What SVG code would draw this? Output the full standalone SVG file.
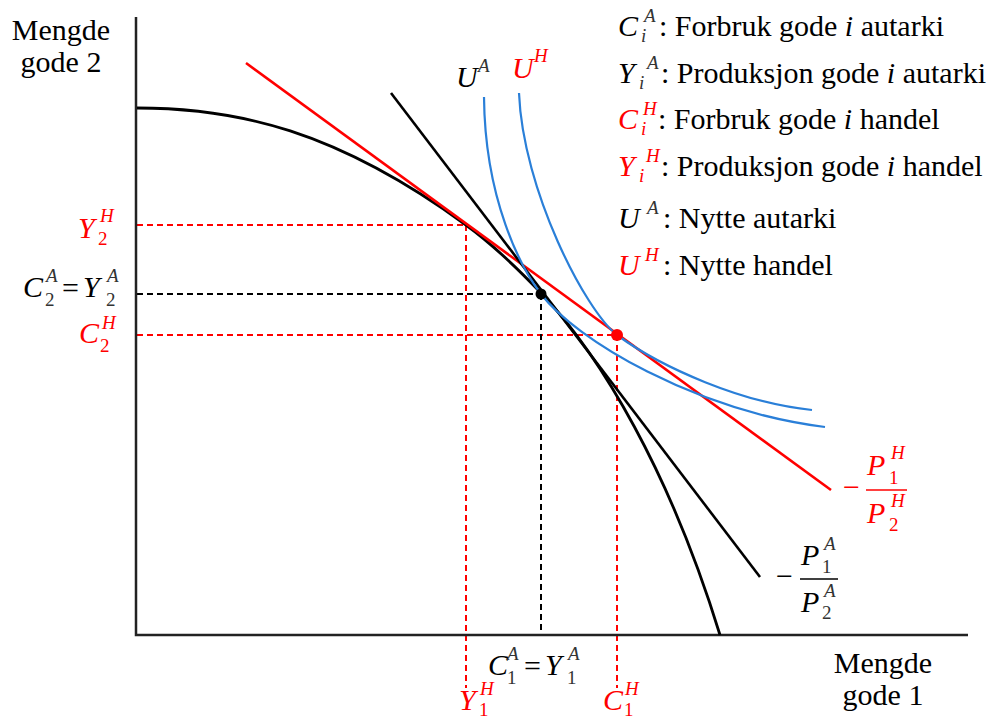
<svg xmlns="http://www.w3.org/2000/svg" width="987" height="722" viewBox="0 0 987 722" font-family="'Liberation Serif', 'Times New Roman', 'DejaVu Serif', serif">
<style>
.t{font-family:"Liberation Serif","Times New Roman","DejaVu Serif",serif;font-size:30px;fill:#000}
.i{font-style:italic}
.s{font-size:19px;fill:#333}
.r{fill:#ff0000}
.dr{stroke:#ff0000;stroke-width:2;stroke-dasharray:6 4;fill:none}
.dk{stroke:#000;stroke-width:2;stroke-dasharray:6 4;fill:none}
.ax{stroke:#222;stroke-width:2.5;fill:none}
.ppf{stroke:#000;stroke-width:2.8;fill:none}
.bl{stroke:#2a7fd8;stroke-width:2.2;fill:none}
</style>
<rect width="987" height="722" fill="#fff"/>
<g id="connectors">
  <g id="guides">
    <line class="dr" x1="137" y1="225" x2="466" y2="225"/>
    <line class="dr" x1="466" y1="225" x2="466" y2="688"/>
    <line class="dr" x1="137" y1="335" x2="617" y2="335"/>
    <line class="dr" x1="617" y1="335" x2="617" y2="688"/>
    <line class="dk" x1="137" y1="294" x2="541" y2="294"/>
    <line class="dk" x1="541" y1="294" x2="541" y2="634"/>
  </g>
  <path id="axes" class="ax" d="M136,17 L136,635 L968,635"/>
  <path id="ppf" class="ppf" d="M137,108 C237,108 336,130.2 466,225 C491,243.2 516,266.8 541,293 C601,356 670,472 720,635"/>
  <line id="price-handel" x1="246" y1="63" x2="831" y2="490" stroke="#ff0000" stroke-width="2.6"/>
  <line id="price-autarki" x1="391" y1="93" x2="760" y2="577" stroke="#000" stroke-width="2.6"/>
  <path id="UA-curve" class="bl" d="M484,97 C485,200 521,268 541,294 C576,340 695,410.6 825,427"/>
  <path id="UH-curve" class="bl" d="M519,93 C523,190 585,310 617,335 C662,367.8 742,403 812,410"/>
  <circle cx="541" cy="294" r="5.5" fill="#000"/>
  <circle cx="617" cy="335" r="6" fill="#ff0000"/>
</g>
<g id="axis-label-y">
  <text class="t" x="61" y="40" text-anchor="middle">Mengde</text>
  <text class="t" x="61" y="72" text-anchor="middle">gode 2</text>
</g>
<g id="axis-label-x">
  <text class="t" x="883" y="673" text-anchor="middle">Mengde</text>
  <text class="t" x="883" y="705" text-anchor="middle">gode 1</text>
</g>
<g id="label-UA">
  <text class="t i" x="456" y="87">U</text>
  <text class="t i s" x="478" y="72">A</text>
</g>
<g id="label-UH">
  <text class="t i r" x="512" y="78">U</text>
  <text class="t i s r" x="534" y="62">H</text>
</g>
<g id="label-Y2H">
  <text class="t i r" x="78" y="238">Y</text>
  <text class="t i s r" x="100" y="222">H</text>
  <text class="t s r" x="98" y="245">2</text>
</g>
<g id="label-C2A-Y2A">
  <text class="t i" x="23" y="297">C</text>
  <text class="t i s" x="46" y="282">A</text>
  <text class="t s" x="45" y="306">2</text>
  <text class="t" x="62" y="298">=</text>
  <text class="t i" x="83" y="297">Y</text>
  <text class="t i s" x="107" y="282">A</text>
  <text class="t s" x="106" y="306">2</text>
</g>
<g id="label-C2H">
  <text class="t i r" x="79" y="343">C</text>
  <text class="t i s r" x="102" y="329">H</text>
  <text class="t s r" x="100" y="352">2</text>
</g>
<g id="label-C1A-Y1A">
  <text class="t i" x="488" y="675">C</text>
  <text class="t i s" x="507" y="660">A</text>
  <text class="t s" x="507" y="684">1</text>
  <text class="t" x="524" y="676">=</text>
  <text class="t i" x="545" y="675">Y</text>
  <text class="t i s" x="568" y="660">A</text>
  <text class="t s" x="567" y="684">1</text>
</g>
<g id="label-Y1H">
  <text class="t i r" x="459" y="710">Y</text>
  <text class="t i s r" x="480" y="695">H</text>
  <text class="t s r" x="479" y="716">1</text>
</g>
<g id="label-C1H">
  <text class="t i r" x="603" y="710">C</text>
  <text class="t i s r" x="625" y="695">H</text>
  <text class="t s r" x="624" y="716">1</text>
</g>
<g id="label-priceH">
  <text class="t r" x="843" y="497">−</text>
  <text class="t i r" x="867" y="475">P</text>
  <text class="t i s r" x="891" y="459">H</text>
  <text class="t s r" x="889" y="484">1</text>
  <line x1="866" y1="490" x2="907" y2="490" stroke="#ff0000" stroke-width="1.5"/>
  <text class="t i r" x="867" y="523">P</text>
  <text class="t i s r" x="891" y="507">H</text>
  <text class="t s r" x="889" y="531">2</text>
</g>
<g id="label-priceA">
  <text class="t" x="776" y="586">−</text>
  <text class="t i" x="801" y="565">P</text>
  <text class="t i s" x="824" y="550">A</text>
  <text class="t s" x="822" y="573">1</text>
  <line x1="800" y1="579" x2="838" y2="579" stroke="#000" stroke-width="1.5"/>
  <text class="t i" x="801" y="612">P</text>
  <text class="t i s" x="824" y="597">A</text>
  <text class="t s" x="822" y="619">2</text>
</g>
<g id="legend">
  <g id="legend-CA">
    <text class="t i" x="618" y="36">C</text>
    <text class="t i s" x="644" y="22">A</text>
    <text class="t i s" x="641" y="42">i</text>
    <text class="t" x="659" y="36">: Forbruk gode <tspan class="i">i</tspan> autarki</text>
  </g>
  <g id="legend-YA">
    <text class="t i" x="618" y="83">Y</text>
    <text class="t i s" x="647" y="69">A</text>
    <text class="t i s" x="639" y="89">i</text>
    <text class="t" x="661" y="83">: Produksjon gode <tspan class="i">i</tspan> autarki</text>
  </g>
  <g id="legend-CH">
    <text class="t i r" x="618" y="129">C</text>
    <text class="t i s r" x="643" y="115">H</text>
    <text class="t i s r" x="641" y="135">i</text>
    <text class="t" x="658" y="129">: Forbruk gode <tspan class="i">i</tspan> handel</text>
  </g>
  <g id="legend-YH">
    <text class="t i r" x="618" y="176">Y</text>
    <text class="t i s r" x="646" y="162">H</text>
    <text class="t i s r" x="639" y="182">i</text>
    <text class="t" x="661" y="176">: Produksjon gode <tspan class="i">i</tspan> handel</text>
  </g>
  <g id="legend-UA">
    <text class="t i" x="618" y="228">U</text>
    <text class="t i s" x="647" y="214">A</text>
    <text class="t" x="663" y="228">: Nytte autarki</text>
  </g>
  <g id="legend-UH">
    <text class="t i r" x="618" y="275">U</text>
    <text class="t i s r" x="645" y="261">H</text>
    <text class="t" x="663" y="275">: Nytte handel</text>
  </g>
</g>
</svg>
